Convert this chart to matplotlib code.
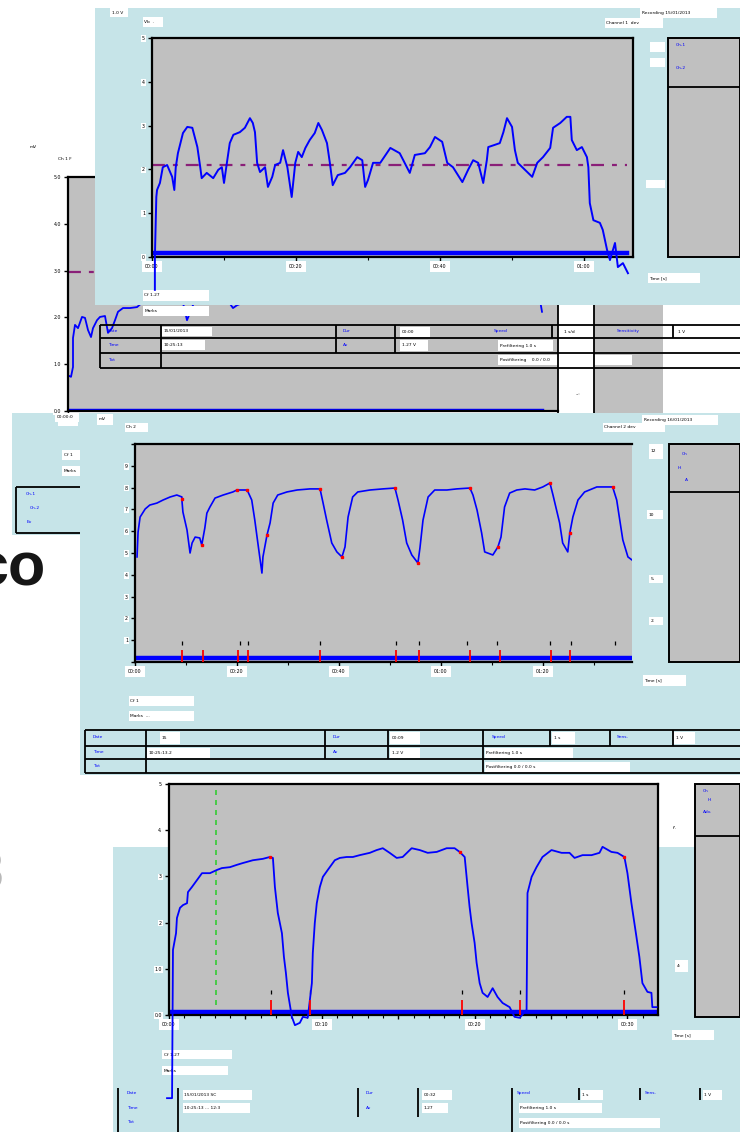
import matplotlib
matplotlib.use('Agg')
import matplotlib.pyplot as plt
from matplotlib.patches import Rectangle

W, H = 740, 1132
LIGHT = '#C6E4E8'
GRAY = '#C0C0C0'
BLUE = '#0000FF'
PURPLE = '#8A1F78'
RED = '#FF0000'
GREEN = '#33CC33'
REF_DASH = (5.8, 3.6, 2.2, 3.6)

# --- recording behind the others (mostly hidden) ---
bg_t = [0.1, 0.3, 0.5, 0.5, 0.7, 1.0, 1.4, 1.7, 2.0, 2.3, 2.5, 2.9, 3.2, 3.7, 4.0,
        4.4, 4.7, 5.0, 5.5, 6.2, 6.9, 7.5, 9.2, 11.5, 11.9, 12.7, 13.9, 15.2, 16.5,
        16.9, 23.2, 33.2, 43.2, 47.2, 47.4]
bg_v = [0.75, 0.73, 0.94, 1.56, 1.84, 1.77, 2.01, 1.99, 1.73, 1.58, 1.77, 1.94, 2.01,
        2.03, 1.67, 1.77, 1.94, 2.12, 2.20, 2.20, 2.22, 2.33, 2.54, 2.31, 1.94, 2.37,
        2.31, 2.59, 2.20, 2.26, 2.80, 2.69, 2.59, 2.37, 2.12]
bg_ref = 2.97
bg_base = ([0.0, 47.4], [0.0, 0.0])

# --- top recording ---
top_t = [0.4, 0.4, 0.6, 0.7, 1.1, 1.5, 2.1, 2.8, 3.1, 3.3, 3.6, 4.3, 4.9, 5.6, 6.3,
         6.7, 6.9, 7.6, 8.5, 9.2, 9.7, 10.0, 10.4, 10.8, 11.3, 12.2, 12.9, 13.6, 14.0,
         14.3, 14.6, 15.0, 15.7, 16.1, 16.7, 17.1, 17.8, 18.2, 18.8, 19.4, 19.9, 20.3,
         20.8, 21.3, 21.9, 22.6, 23.1, 23.6, 24.3, 24.7, 25.1, 25.8, 26.8, 27.5, 28.5,
         29.2, 29.6, 30.0, 30.7, 31.7, 33.1, 34.4, 34.9, 35.8, 36.5, 37.9, 38.6, 39.3,
         40.3, 41.0, 41.8, 43.1, 43.9, 44.6, 45.3, 46.0, 46.5, 46.7, 47.6, 48.3, 48.8,
         49.3, 50.0, 50.4, 50.8, 51.8, 52.8, 53.5, 54.3, 55.3, 55.7, 56.7, 57.6, 58.1,
         58.3, 59.0, 59.7, 60.4, 60.6, 60.8, 61.3, 62.2, 62.6, 63.2, 63.6, 64.3, 64.7,
         65.4, 66.1]
top_v = [-0.75, 0.00, 1.37, 1.53, 1.69, 2.05, 2.10, 1.83, 1.53, 2.05, 2.37, 2.83, 2.97,
         2.95, 2.51, 2.05, 1.80, 1.92, 1.80, 1.99, 2.05, 1.69, 2.15, 2.60, 2.79, 2.85,
         2.95, 3.17, 3.06, 2.85, 2.15, 1.94, 2.05, 1.60, 1.83, 2.10, 2.15, 2.44, 2.05,
         1.37, 2.15, 2.40, 2.28, 2.49, 2.67, 2.83, 3.06, 2.90, 2.60, 2.15, 1.64, 1.87,
         1.92, 2.05, 2.28, 2.21, 1.60, 1.76, 2.15, 2.15, 2.49, 2.37, 2.21, 1.92, 2.33,
         2.37, 2.51, 2.74, 2.63, 2.15, 2.05, 1.71, 1.99, 2.21, 2.15, 1.69, 2.21, 2.51,
         2.56, 2.60, 2.85, 3.17, 2.97, 2.44, 2.15, 1.99, 1.83, 2.15, 2.28, 2.49, 2.95,
         3.06, 3.20, 3.20, 2.67, 2.44, 2.51, 2.28, 2.05, 1.23, 0.84, 0.78, 0.62, 0.16,
         -0.07, 0.32, -0.23, -0.14, -0.37]
top_ref = 2.1
top_base = ([0.1, 66.0], [0.09, 0.09])

# --- middle recording ---
mid_t = [0.4, 0.6, 1.0, 2.0, 2.9, 4.3, 5.5, 6.9, 8.2, 9.2, 9.2, 9.4, 10.2, 10.8, 11.2,
         11.8, 12.7, 13.1, 13.7, 14.1, 14.7, 15.7, 17.3, 19.2, 20.0, 22.0, 22.9, 23.5,
         24.1, 24.9, 25.1, 25.9, 26.5, 27.1, 28.0, 29.8, 31.8, 34.3, 36.3, 36.9, 37.6,
         38.6, 39.6, 40.6, 41.2, 41.8, 42.7, 43.7, 46.1, 48.6, 51.0, 51.6, 52.5, 53.3,
         54.3, 55.5, 55.9, 56.5, 57.5, 58.8, 61.2, 63.1, 65.7, 66.3, 67.1, 68.0, 68.6,
         70.2, 71.2, 71.8, 72.5, 73.5, 74.9, 76.5, 78.4, 80.0, 81.4, 82.0, 82.7, 83.3,
         83.9, 84.9, 85.3, 85.9, 86.9, 88.2, 90.6, 93.7, 94.5, 95.1, 95.7, 96.7, 97.5]
mid_v = [48.2, 59.6, 66.5, 70.2, 72.0, 72.9, 74.3, 75.7, 76.6, 75.7, 74.3, 68.8, 60.6,
         50.0, 54.6, 57.3, 56.9, 53.7, 61.5, 68.3, 71.1, 75.2, 76.6, 78.0, 78.9, 78.9,
         74.3, 65.1, 54.6, 40.8, 48.2, 58.3, 63.8, 72.9, 76.6, 78.0, 78.9, 79.4, 79.4,
         72.9, 65.1, 54.6, 50.5, 48.2, 52.8, 66.5, 75.7, 78.0, 78.9, 79.4, 79.8, 74.3,
         65.1, 54.6, 49.1, 45.4, 52.3, 65.1, 75.7, 78.9, 78.9, 79.4, 79.8, 76.6, 69.7,
         59.2, 50.5, 49.1, 52.8, 57.3, 71.1, 77.5, 78.9, 79.4, 78.9, 80.3, 82.1, 76.6,
         69.7, 63.8, 54.6, 50.5, 59.2, 66.5, 74.3, 78.0, 80.3, 80.3, 74.3, 65.1, 56.0,
         48.2, 46.8]
mid_dot_t = [9.2, 13.1, 20.0, 22.0, 25.9, 36.3, 40.6, 51.0, 55.5, 65.7, 71.2, 81.4, 85.3, 93.7]
mid_dot_v = [74.8, 53.7, 78.9, 78.9, 58.3, 79.4, 48.2, 79.8, 45.4, 79.8, 52.8, 82.1, 59.2, 80.3]
mid_events = [9.2, 13.3, 20.2, 22.2, 36.3, 51.2, 55.7, 65.7, 71.6, 81.6, 85.3]
mid_notes = [9.2, 20.6, 22.2, 36.3, 51.2, 55.7, 65.1, 71.0, 81.4, 85.5, 94.1]
mid_base = ([0.2, 97.2], [1.8, 1.8])

# --- bottom recording ---
bot_t = [-0.13, 0.20, 0.26, 0.46, 0.52, 0.72, 0.92, 1.18, 1.24, 1.50, 1.83, 2.16, 2.68,
         3.14, 3.46, 3.99, 4.44, 4.84, 5.49, 6.14, 6.60, 6.80, 6.93, 7.12, 7.39, 7.52,
         7.65, 7.78, 8.04, 8.24, 8.56, 8.76, 9.08, 9.35, 9.41, 9.54, 9.67, 9.87, 10.07,
         10.39, 10.85, 11.18, 11.63, 12.03, 12.48, 13.14, 13.59, 13.99, 14.44, 14.90,
         15.29, 15.88, 16.41, 16.93, 17.52, 18.17, 18.69, 19.02, 19.35, 19.54, 19.67,
         19.80, 20.00, 20.13, 20.33, 20.52, 20.85, 21.18, 21.50, 21.83, 22.29, 22.61,
         22.94, 23.40, 23.46, 23.73, 24.05, 24.44, 25.03, 25.69, 26.21, 26.54, 27.06,
         27.65, 28.17, 28.37, 28.95, 29.35, 29.80, 30.00, 30.26, 30.59, 30.78, 30.98,
         31.31, 31.57, 31.63, 31.90]
bot_v = [-1.80, -1.80, 1.41, 1.77, 2.10, 2.32, 2.38, 2.42, 2.66, 2.77, 2.92, 3.07, 3.07,
         3.14, 3.18, 3.20, 3.25, 3.29, 3.35, 3.38, 3.42, 3.40, 2.77, 2.21, 1.77, 1.26,
         0.91, 0.48, -0.04, -0.22, -0.17, -0.04, -0.06, 0.69, 1.34, 1.99, 2.42, 2.77,
         2.99, 3.14, 3.35, 3.40, 3.42, 3.42, 3.46, 3.51, 3.57, 3.61, 3.51, 3.40, 3.42,
         3.61, 3.57, 3.51, 3.53, 3.61, 3.61, 3.53, 3.42, 2.77, 2.34, 1.99, 1.56, 1.13,
         0.69, 0.48, 0.39, 0.58, 0.39, 0.26, 0.17, -0.04, -0.06, 0.11, 2.64, 2.99, 3.20,
         3.42, 3.57, 3.51, 3.51, 3.40, 3.46, 3.46, 3.51, 3.64, 3.53, 3.51, 3.42, 3.07,
         2.42, 1.69, 1.26, 0.69, 0.50, 0.48, 0.17, 0.17]
bot_dot_t = [6.60, 19.02, 29.80]
bot_dot_v = [3.42, 3.53, 3.42]
bot_events = [6.67, 9.2, 19.15, 22.94, 29.8]
bot_cursor = 3.07
bot_base = ([0.05, 31.9], [0.065, 0.065])

fig = plt.figure(figsize=(W / 100, H / 100), dpi=100)
fig.patch.set_facecolor('white')


def layer():
    ax = fig.add_axes([0, 0, 1, 1])
    ax.set_xlim(0, W)
    ax.set_ylim(H, 0)
    ax.axis('off')
    return ax


def box(ax, x0, y0, x1, y1, fc, ec='none', lw=0.0):
    ax.add_patch(Rectangle((x0, y0), x1 - x0, y1 - y0, facecolor=fc,
                           edgecolor=ec, linewidth=lw))


def tag(ax, x0, y0, x1, y1, s, color='black'):
    box(ax, x0, y0, x1, y1, 'white')
    ax.text(x0 + 1.5, (y0 + y1) / 2, s, fontsize=3.2, color=color,
            va='center', ha='left')


def note(ax, x, y, s, color=BLUE):
    ax.text(x, y, s, fontsize=3.2, color=color, va='center', ha='left')


def rules(ax, segs, lw=1.3):
    for x0, y0, x1, y1 in segs:
        ax.plot([x0, x1], [y0, y1], color='black', lw=lw, solid_capstyle='butt')


def plot_axes(x0, y0, x1, y1):
    ax = fig.add_axes([x0 / W, 1 - y1 / H, (x1 - x0) / W, (y1 - y0) / H])
    ax.set_facecolor(GRAY)
    for s in ax.spines.values():
        s.set_color('black')
        s.set_linewidth(1.6)
    return ax


def style_ticks(ax, xmaj, xlab, xmin, ymaj, ylab):
    ax.set_xticks(xmaj)
    ax.set_xticklabels(xlab)
    ax.set_xticks(xmin, minor=True)
    ax.set_yticks(ymaj)
    ax.set_yticklabels(ylab)
    ax.tick_params(which='both', direction='out', color='black', labelsize=3.4, pad=2)
    ax.tick_params(which='major', length=3, width=1)
    ax.tick_params(which='minor', length=2, width=0.8)
    for t in ax.get_xticklabels():
        t.set_bbox(dict(facecolor='white', edgecolor='none', pad=2.2))
    for t in ax.get_yticklabels():
        t.set_bbox(dict(facecolor='white', edgecolor='none', pad=0.5))


# ---------- layer 0: stray bits on the page ----------
L0 = layer()
box(L0, 12, 413, 80, 535, LIGHT)
rules(L0, [(16, 487, 80, 487), (16, 487, 16, 533), (16, 533, 80, 533)])
note(L0, 26, 494, 'Ch-1')
note(L0, 30, 508, 'Ch-2')
note(L0, 27, 522, 'Ev')
tag(L0, 62, 450, 80, 460, 'Cf 1')
tag(L0, 62, 466, 80, 476, 'Marks')
tag(L0, 28, 143, 45, 151, 'mV', 'black')
tag(L0, 57, 155, 78, 164, 'Ch 1 F')
# fragments of slide text peeking out at the left edge
L0.text(46, 585, 'co', fontsize=44, fontweight='bold', family='Liberation Sans',
        ha='right', va='baseline', color='#161616')
L0.text(3, 890, '3', fontsize=40, fontweight='bold', family='Liberation Sans',
        ha='right', va='baseline', color='#9A9A9A', alpha=0.7)

# ---------- background recording ----------
axb = plot_axes(68, 177, 558, 411)
axb.set_xlim(0, 49)
axb.set_ylim(0, 5)
axb.spines['right'].set_visible(False)
axb.plot(bg_t, bg_v, color=BLUE, lw=1.3)
axb.plot(*bg_base, color=BLUE, lw=3.2)
axb.axhline(bg_ref, color=PURPLE, lw=1.6, dashes=REF_DASH)
style_ticks(axb, [0], ['00:00'], [], [0, 1, 2, 3, 4, 5],
            ['0.0', '1.0', '2.0', '3.0', '4.0', '5.0'])

L1 = layer()
box(L1, 594, 305, 663, 413, GRAY)
rules(L1, [(558, 305, 558, 413), (594, 305, 594, 413)])
rules(L1, [(100, 325, 740, 325), (100, 338, 740, 338), (100, 353, 740, 353),
           (100, 368, 740, 368), (100, 325, 100, 368), (161, 325, 161, 368),
           (336, 325, 336, 353), (395, 325, 395, 353), (552, 325, 552, 338),
           (673, 325, 673, 338)])
note(L1, 108, 331, 'Date')
note(L1, 108, 345, 'Time')
note(L1, 108, 360, 'Txt')
note(L1, 343, 331, 'Dur')
note(L1, 343, 345, 'Av')
note(L1, 494, 331, 'Speed')
note(L1, 617, 331, 'Sensitivity')
tag(L1, 162, 327, 212, 336, '15/01/2013')
tag(L1, 162, 340, 205, 350, '10:25:13')
tag(L1, 400, 327, 430, 337, '00:00')
tag(L1, 400, 340, 428, 351, '1.27 V')
tag(L1, 498, 340, 553, 351, 'Prefiltering 1.0 s')
tag(L1, 498, 355, 632, 365, 'Postfiltering    0.0 / 0.0')
tag(L1, 563, 327, 590, 337, '1 s/d')
tag(L1, 676, 327, 740, 337, '1 V')
note(L1, 576, 394, '--:', 'black')

# ---------- top recording ----------
L2 = layer()
box(L2, 95, 8, 740, 305, LIGHT)
box(L2, 668, 38, 740, 257, GRAY, 'black', 1.4)
rules(L2, [(668, 87, 740, 87)])
note(L2, 676, 45, 'Ch-1')
note(L2, 676, 68, 'Ch-2')
box(L2, 650, 42, 665, 52, 'white')
box(L2, 650, 58, 665, 67, 'white')
box(L2, 646, 180, 665, 188, 'white')
tag(L2, 110, 8, 128, 17, '1.0 V')
tag(L2, 143, 17, 163, 27, 'Vb  .')
tag(L2, 640, 8, 717, 18, 'Recording 15/01/2013')
tag(L2, 605, 18, 663, 28, 'Channel 1  dev')
tag(L2, 648, 273, 700, 283, 'Time [s]')
tag(L2, 143, 290, 209, 301, 'Cf 1.27')
tag(L2, 143, 306, 209, 316, 'Marks')

axt = plot_axes(152, 38, 633, 257)
axt.set_xlim(0, 66.8)
axt.set_ylim(0, 5)
axt.plot(top_t, top_v, color=BLUE, lw=1.4, clip_on=False, zorder=3)
axt.plot(*top_base, color=BLUE, lw=3.2)
axt.hlines(top_ref, 0, 66.0, color=PURPLE, lw=1.6, linestyles=[(0, REF_DASH)])
style_ticks(axt, [0, 20, 40, 60], ['00:00', '00:20', '00:40', '01:00'],
            [10, 30, 50], [0, 1, 2, 3, 4, 5], ['0', '1', '2', '3', '4', '5'])

# ---------- middle recording ----------
L3 = layer()
box(L3, 80, 413, 740, 775, LIGHT)
tag(L3, 55, 413, 79, 422, '00:00:0')
tag(L3, 97, 414, 113, 425, 'mV')
tag(L3, 125, 423, 148, 432, 'Ch 2')
tag(L3, 642, 415, 718, 425, 'Recording 16/01/2013')
tag(L3, 603, 423, 665, 432, 'Channel 2 dev')
box(L3, 669, 444, 740, 662, GRAY, 'black', 1.4)
rules(L3, [(669, 492, 740, 492)])
note(L3, 682, 454, 'Ch')
note(L3, 678, 468, 'H.')
note(L3, 685, 480, 'A')
tag(L3, 649, 444, 663, 459, '12')
tag(L3, 647, 510, 663, 519, '10')
tag(L3, 649, 575, 663, 583, '5.')
tag(L3, 649, 617, 663, 625, '2.')
tag(L3, 643, 675, 686, 686, 'Time [s]')
tag(L3, 129, 696, 194, 706, 'Cf 1')
tag(L3, 129, 711, 194, 721, 'Marks  ...')
rules(L3, [(85, 730, 740, 730), (85, 746, 740, 746), (85, 759, 740, 759),
           (85, 773, 740, 773), (85, 730, 85, 773), (146, 730, 146, 773),
           (325, 730, 325, 759), (388, 730, 388, 759), (483, 730, 483, 773),
           (550, 730, 550, 746), (610, 730, 610, 746), (673, 730, 673, 746)])
note(L3, 93, 737, 'Date')
note(L3, 93, 752, 'Time')
note(L3, 93, 766, 'Txt')
note(L3, 333, 737, 'Dur')
note(L3, 333, 752, 'Av')
note(L3, 492, 737, 'Speed')
note(L3, 617, 737, 'Sens.')
tag(L3, 160, 732, 180, 744, '15')
tag(L3, 147, 748, 210, 758, '10:25:13.2')
tag(L3, 390, 732, 420, 744, '00:09')
tag(L3, 390, 748, 420, 758, '1.2 V')
tag(L3, 485, 748, 573, 758, 'Prefiltering 1.0 s')
tag(L3, 485, 762, 630, 772, 'Postfiltering 0.0 / 0.0 s')
tag(L3, 552, 732, 575, 744, '1 s')
tag(L3, 674, 732, 695, 744, '1 V')

axm = plot_axes(135, 444, 632, 662)
axm.set_xlim(0, 97.5)
axm.set_ylim(0, 100)
axm.spines['right'].set_visible(False)
axm.plot(mid_t, mid_v, color=BLUE, lw=1.2, zorder=3)
axm.plot(*mid_base, color=BLUE, lw=3.2)
axm.vlines(mid_events, 0, 5.5, color=RED, lw=1.3, zorder=4)
axm.vlines(mid_notes, 8, 9.5, color='black', lw=0.9)
axm.plot(mid_dot_t, mid_dot_v, 's', color=RED, ms=1.6, zorder=5)
style_ticks(axm, [0, 20, 40, 60, 80], ['00:00', '00:20', '00:40', '01:00', '01:20'],
            [10, 30, 50, 70, 90], list(range(0, 101, 10)),
            ['', '1', '2', '3', '4', '5', '6', '7', '8', '9', ''])

# ---------- bottom recording ----------
L4 = layer()
box(L4, 113, 847, 740, H, LIGHT)
box(L4, 695, 784, 740, 1017, GRAY, 'black', 1.4)
rules(L4, [(695, 836, 740, 836)])
note(L4, 703, 791, 'Ch')
note(L4, 708, 800, 'H.')
note(L4, 703, 812, 'Adv.')
note(L4, 673, 828, "f'.", 'black')
tag(L4, 675, 960, 688, 972, '4:')
tag(L4, 672, 1030, 714, 1040, 'Time [s]')
tag(L4, 162, 1050, 232, 1059, 'Cf 1.27')
tag(L4, 162, 1066, 228, 1075, 'Marks')
rules(L4, [(118, 1088, 118, H), (178, 1088, 178, H), (358, 1088, 358, 1117),
           (418, 1088, 418, 1117), (512, 1088, 512, H), (579, 1088, 579, 1100),
           (640, 1088, 640, 1100), (700, 1088, 700, 1100)])
note(L4, 127, 1093, 'Date')
note(L4, 127, 1108, 'Time')
note(L4, 127, 1122, 'Txt')
note(L4, 366, 1093, 'Dur')
note(L4, 366, 1108, 'Av')
note(L4, 517, 1093, 'Speed')
note(L4, 645, 1093, 'Sens.')
tag(L4, 183, 1090, 252, 1100, '15/01/2013 SC')
tag(L4, 183, 1103, 250, 1113, '10:25:13 ... 12:3')
tag(L4, 422, 1090, 452, 1100, '00:32')
tag(L4, 422, 1103, 448, 1113, '1.27')
tag(L4, 581, 1090, 603, 1100, '1 s')
tag(L4, 703, 1090, 722, 1100, '1 V')
tag(L4, 519, 1103, 602, 1113, 'Prefiltering 1.0 s')
tag(L4, 519, 1118, 660, 1128, 'Postfiltering 0.0 / 0.0 s')

axo = plot_axes(169, 784, 658, 1015)
axo.set_xlim(0, 32)
axo.set_ylim(0, 5)
axo.axvline(bot_cursor, color=GREEN, lw=1.2, dashes=(3, 3))
axo.plot(bot_t, bot_v, color=BLUE, lw=1.3, clip_on=False, zorder=3)
axo.plot(*bot_base, color=BLUE, lw=3.2)
axo.vlines(bot_events, 0, 0.32, color=RED, lw=1.3, zorder=4)
axo.vlines(bot_events, 0.45, 0.55, color='black', lw=0.9)
axo.plot(bot_dot_t, bot_dot_v, 's', color=RED, ms=1.4, zorder=5)
style_ticks(axo, [0, 5, 10, 15, 20, 25, 30],
            ['00:00', '', '00:10', '', '00:20', '', '00:30'],
            [v for v in range(1, 32) if v % 5], [0, 1, 2, 3, 4, 5],
            ['0.0', '1.0', '2', '3', '4.', '5'])

fig.savefig('out.png', dpi=100)
